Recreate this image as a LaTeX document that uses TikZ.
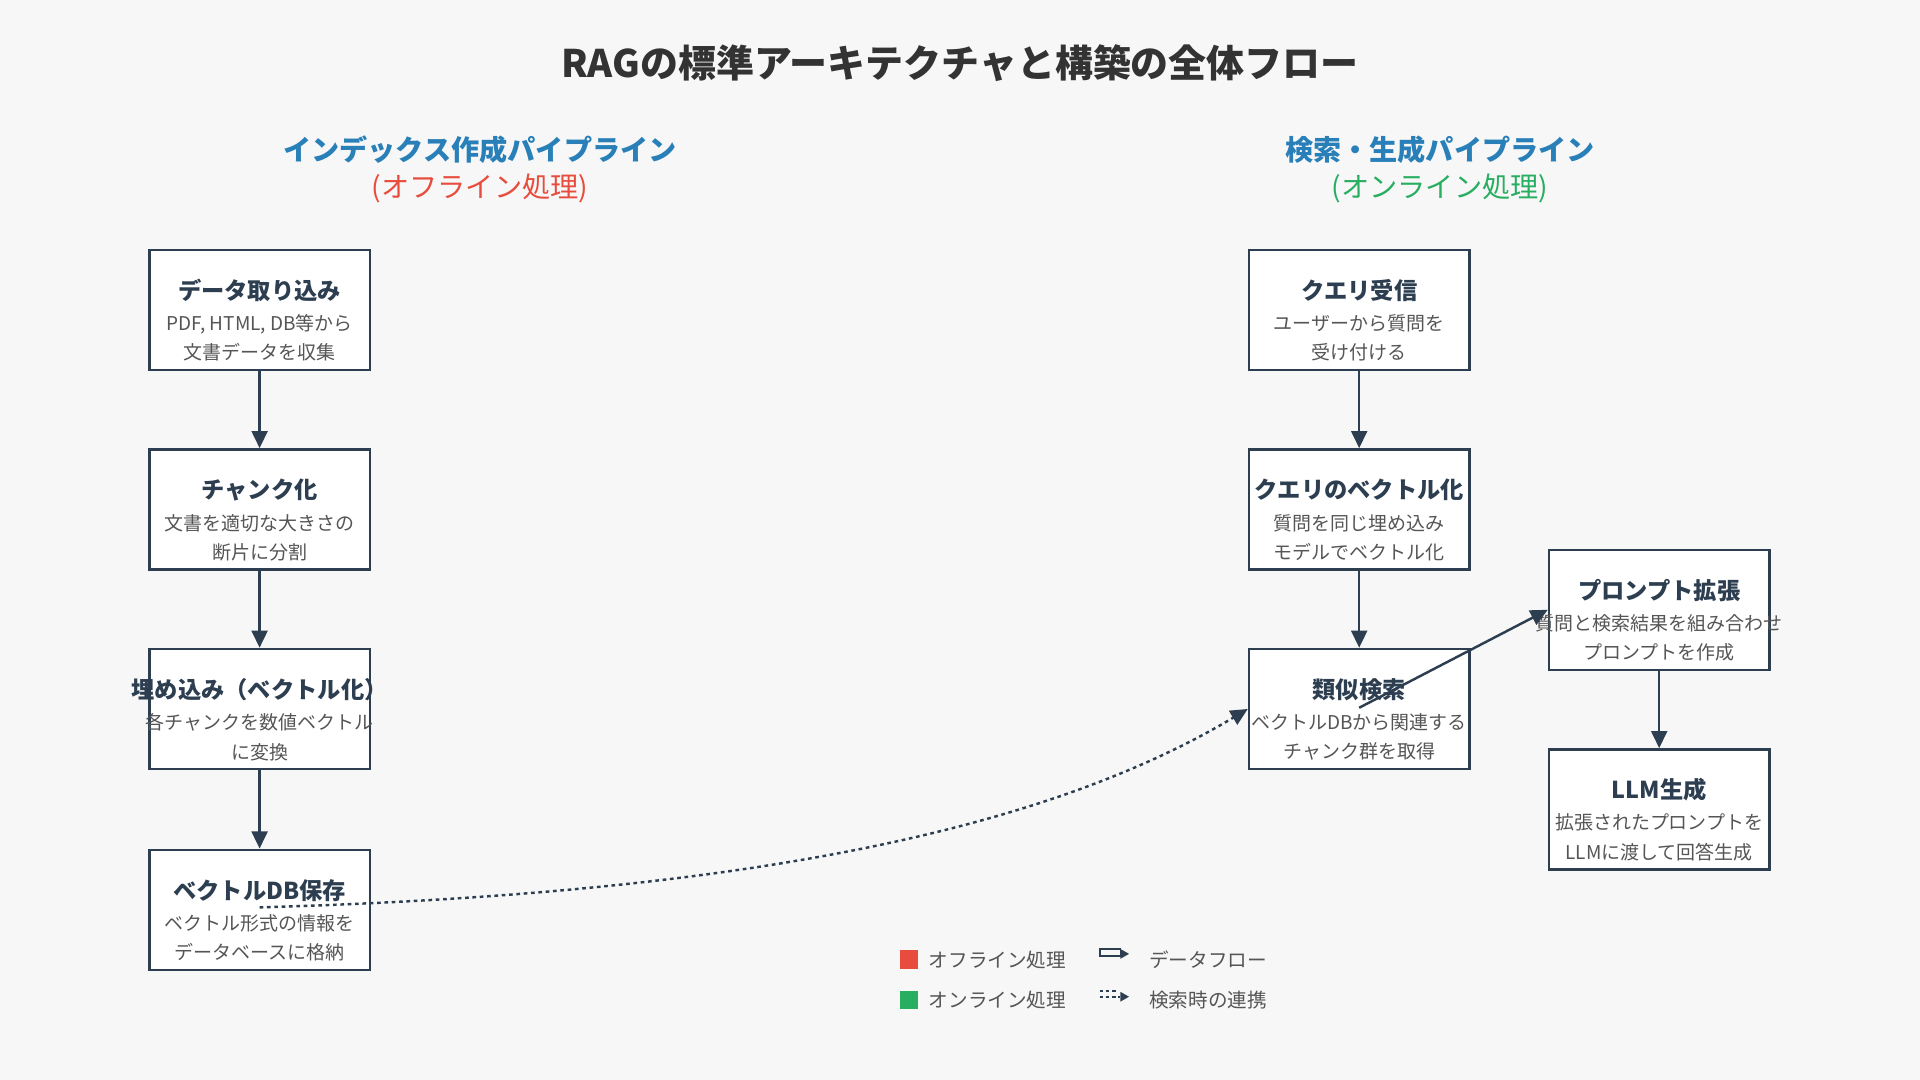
\documentclass[tikz,border=0pt]{standalone}
\usepackage{fontspec}
\setmainfont{Noto Sans CJK JP}
\usetikzlibrary{arrows.meta,calc}
\definecolor{dk}{HTML}{2C3E50}
\definecolor{tx}{HTML}{555555}
\definecolor{bl}{HTML}{2980B9}
\definecolor{rd}{HTML}{E74C3C}
\definecolor{gr}{HTML}{27AE60}
\begin{document}
\begin{tikzpicture}[x=1pt,y=-1pt,
 box/.style={draw=dk,line width=2pt,fill=white,minimum width=180pt,minimum height=98pt,inner sep=0pt},
 ttl/.style={font=\fontsize{19}{22}\selectfont\bfseries,text=dk},
 sub/.style={font=\fontsize{15.5}{24}\selectfont,text=tx,align=center},
 arr/.style={draw=dk,line width=2pt,-{Triangle[length=14pt,width=13pt]}},
 lg/.style={font=\fontsize{16}{18}\selectfont,text=tx,anchor=west}]
\fill[fill={rgb,255:red,247;green,247;blue,247}] (0,0) rectangle (1568,882);
\useasboundingbox (0,0) rectangle (1568,882);
\node[font=\fontsize{31}{34}\selectfont\bfseries,text={rgb,255:red,51;green,51;blue,51}] (title) at (784,52) {RAGの標準アーキテクチャと構築の全体フロー};
\node[font=\fontsize{23}{26}\selectfont\bfseries,text=bl] (h1) at (392,122) {インデックス作成パイプライン};
\node[font=\fontsize{23}{26}\selectfont,text=rd] (h1b) at (392,154) {(オフライン処理)};
\node[font=\fontsize{23}{26}\selectfont\bfseries,text=bl] (h2) at (1176,122) {検索・生成パイプライン};
\node[font=\fontsize{23}{26}\selectfont,text=gr] (h2b) at (1176,154) {(オンライン処理)};
\newcommand\bx[5]{\node[box] (#1) at (#2) {};
 \node[ttl] (#1t) at ($(#2)+(0,-16)$) {#3};
 \node[sub] (#1s) at ($(#2)+(0,23)$) {#4\\#5};}
\bx{a1}{212,253}{データ取り込み}{PDF, HTML, DB等から}{文書データを収集}
\bx{a2}{212,416}{チャンク化}{文書を適切な大きさの}{断片に分割}
\bx{a3}{212,579}{埋め込み（ベクトル化）}{各チャンクを数値ベクトル}{に変換}
\bx{a4}{212,743}{ベクトルDB保存}{ベクトル形式の情報を}{データベースに格納}
\bx{b1}{1110,253}{クエリ受信}{ユーザーから質問を}{受け付ける}
\bx{b2}{1110,416}{クエリのベクトル化}{質問を同じ埋め込み}{モデルでベクトル化}
\bx{b3}{1110,579}{類似検索}{ベクトルDBから関連する}{チャンク群を取得}
\bx{c1}{1355,498}{プロンプト拡張}{質問と検索結果を組み合わせ}{プロンプトを作成}
\bx{c2}{1355,661}{LLM生成}{拡張されたプロンプトを}{LLMに渡して回答生成}
\draw[arr] (a1) -- (a2);
\draw[arr] (a2) -- (a3);
\draw[arr] (a3) -- (a4);
\draw[arr] (b1) -- (b2);
\draw[arr] (b2) -- (b3);
\draw[arr] (c1) -- (c2);
\coordinate (p1) at (1110,578);
\draw[arr] (p1) -- (c1.west);
\coordinate (q1) at (212,741);
\draw[draw=dk,line width=2pt,dash pattern=on 3pt off 3pt,-{Triangle[length=14pt,width=13pt]}] (q1) .. controls (600,730) and (850,680) .. (b3.west);
\fill[rd] (735,776) rectangle (750,791);
\node[lg] (l1) at (755,784) {オフライン処理};
\fill[gr] (735,809) rectangle (750,824);
\node[lg] (l2) at (755,817) {オンライン処理};
\coordinate (m1) at (898,777); \coordinate (m2) at (922,779);
\draw[draw=dk,line width=1.5pt] (898,775) rectangle (915,781);
\fill[dk] (915,775) -- (922,779) -- (915,783) -- cycle;
\node[lg] (l3) at (935,784) {データフロー};
\draw[draw=dk,line width=1.5pt,dash pattern=on 3pt off 2pt] (898,809) -- (912,809) (898,814) -- (915,814);
\fill[dk] (915,810) -- (922,814) -- (915,818) -- cycle;
\node[lg] (l4) at (935,817) {検索時の連携};
\end{tikzpicture}
\end{document}
